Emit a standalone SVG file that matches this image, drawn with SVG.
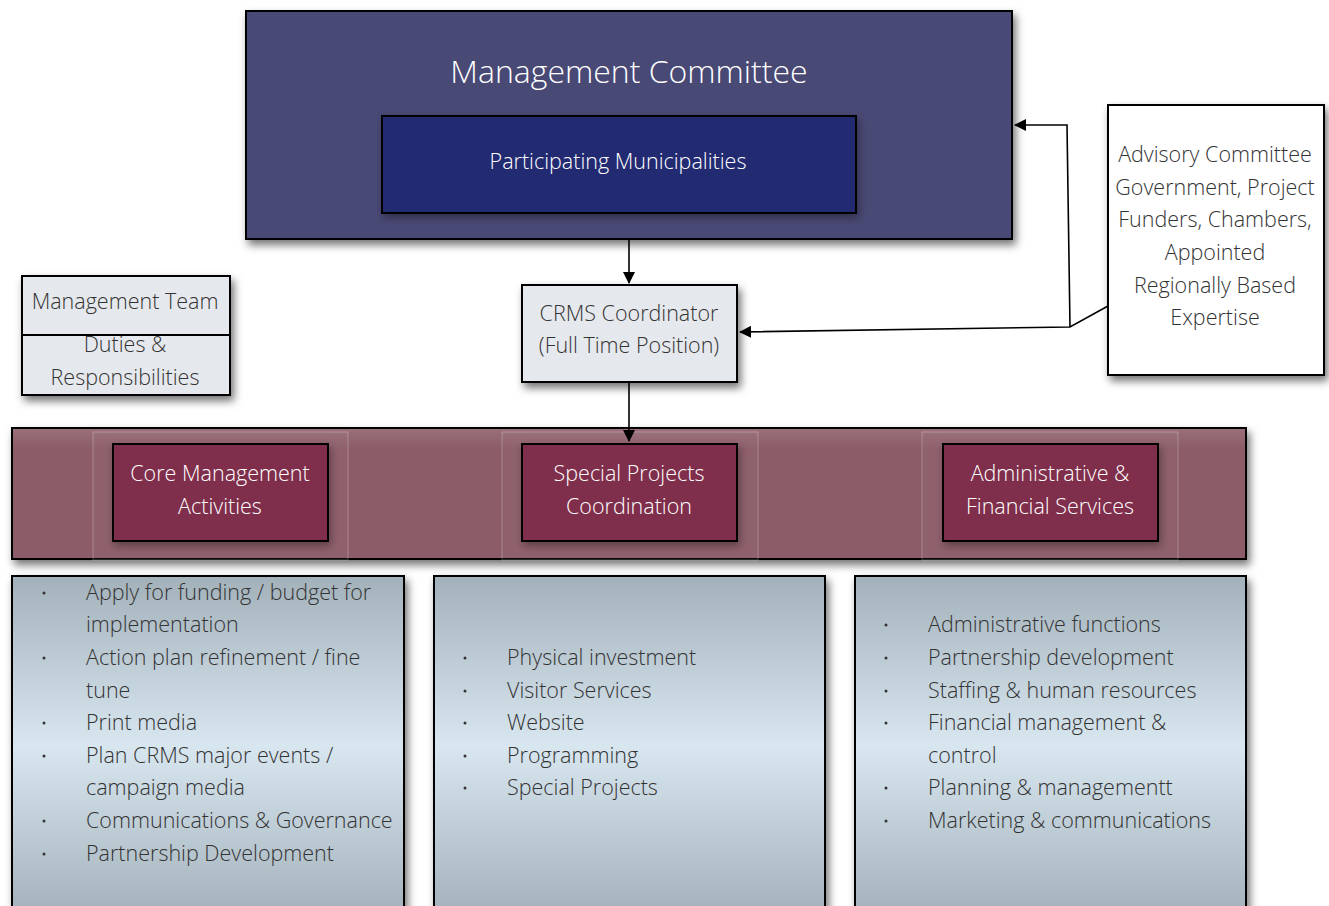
<svg xmlns="http://www.w3.org/2000/svg" width="1329" height="906" viewBox="0 0 1329 906">
  <defs>
    <filter id="shadow" x="-10%" y="-10%" width="125%" height="130%">
      <feDropShadow dx="3" dy="5" stdDeviation="4" flood-color="#000" flood-opacity="0.55"/>
    </filter>
    <filter id="softShadow" x="-10%" y="-10%" width="125%" height="130%">
      <feDropShadow dx="2" dy="4" stdDeviation="4" flood-color="#000" flood-opacity="0.35"/>
    </filter>
    <linearGradient id="listFill" x1="0" y1="0" x2="0" y2="1">
      <stop offset="0" stop-color="#a3b1ba"/>
      <stop offset="0.5" stop-color="#d8e6f0"/>
      <stop offset="1" stop-color="#a3b1ba"/>
    </linearGradient>
    <linearGradient id="bandSheen" x1="0" y1="0" x2="0" y2="1">
      <stop offset="0" stop-color="#fff" stop-opacity="0.12"/>
      <stop offset="0.15" stop-color="#fff" stop-opacity="0"/>
    </linearGradient>
    <marker id="arrow" viewBox="0 0 12 12" refX="11" refY="6" markerWidth="12" markerHeight="12" markerUnits="userSpaceOnUse" orient="auto">
      <path d="M0,0 L12,6 L0,12 z" fill="#000"/>
    </marker>
    <style>
      text { font-family: "Open Sans", "Noto Sans", "Liberation Sans", sans-serif; font-weight: 300; }
      .box { stroke: #000; stroke-width: 2; }
      .light { fill: #e5e8ec; }
      .dark { fill: #333; font-size: 21.5px; }
      .white { fill: #fff; font-size: 21.5px; }
      .unit { fill: #7f2e4c; }
      .mid { text-anchor: middle; }
      .bullet { fill: #333; font-size: 21.5px; }
      .dot { fill: #333; }
      .conn { fill: none; stroke: #000; stroke-width: 1.6; }
      .lane { fill: #fff; fill-opacity: 0.03; stroke: #fff; stroke-opacity: 0.25; stroke-width: 1; }
    </style>
  </defs>

  <rect width="1329" height="906" fill="#fff"/>

  <!-- governing committee with member municipalities -->
  <g id="management-committee">
    <rect class="box" x="246" y="11" width="766" height="228" fill="#4a4a75" filter="url(#shadow)"/>
    <text class="mid" x="629" y="83" fill="#fff" font-size="32">Management Committee</text>
  </g>
  <g id="participating-municipalities">
    <rect class="box" x="382" y="116" width="474" height="97" fill="#222c72" filter="url(#softShadow)"/>
    <text class="white mid" x="618" y="169">Participating Municipalities</text>
  </g>

  <g id="crms-coordinator">
    <rect class="box light" x="522" y="285" width="215" height="97" filter="url(#shadow)"/>
    <text class="dark mid" x="629" y="321">CRMS Coordinator</text>
    <text class="dark mid" x="629" y="353">(Full Time Position)</text>
  </g>

  <g id="management-team">
    <rect class="box light" x="22" y="276" width="208" height="119" filter="url(#shadow)"/>
    <line x1="22" y1="335" x2="230" y2="335" stroke="#000" stroke-width="2"/>
    <text class="dark mid" x="125" y="309">Management Team</text>
    <text class="dark mid" x="125" y="352">Duties &amp;</text>
    <text class="dark mid" x="125" y="385">Responsibilities</text>
  </g>

  <g id="advisory-committee">
    <rect class="box" x="1108" y="105" width="216" height="270" fill="#fff" filter="url(#shadow)"/>
    <text class="dark mid" x="1215" y="162">Advisory Committee</text>
    <text class="dark mid" x="1215" y="195">Government, Project</text>
    <text class="dark mid" x="1215" y="227">Funders, Chambers,</text>
    <text class="dark mid" x="1215" y="260">Appointed</text>
    <text class="dark mid" x="1215" y="293">Regionally Based</text>
    <text class="dark mid" x="1215" y="325">Expertise</text>
  </g>

  <!-- operational band with three service units -->
  <g id="operations-band">
    <rect class="box" x="12" y="428" width="1234" height="131" fill="#8c5b68" filter="url(#shadow)"/>
    <rect x="13" y="429" width="1232" height="129" fill="url(#bandSheen)"/>
    <rect class="lane" x="93" y="432" width="255" height="128"/>
    <rect class="lane" x="502" y="432" width="256" height="128"/>
    <rect class="lane" x="922" y="432" width="256" height="128"/>
  </g>
  <g id="core-management">
    <rect class="box unit" x="113" y="444" width="215" height="97" filter="url(#softShadow)"/>
    <text class="white mid" x="220" y="481">Core Management</text>
    <text class="white mid" x="220" y="514">Activities</text>
  </g>
  <g id="special-projects">
    <rect class="box unit" x="522" y="444" width="215" height="97" filter="url(#softShadow)"/>
    <text class="white mid" x="629" y="481">Special Projects</text>
    <text class="white mid" x="629" y="514">Coordination</text>
  </g>
  <g id="admin-financial">
    <rect class="box unit" x="943" y="444" width="215" height="97" filter="url(#softShadow)"/>
    <text class="white mid" x="1050" y="481">Administrative &amp;</text>
    <text class="white mid" x="1050" y="514">Financial Services</text>
  </g>

  <!-- task lists -->
  <g id="core-tasks">
    <rect class="box" x="12" y="576" width="392" height="340" fill="url(#listFill)" filter="url(#shadow)"/>
    <g class="dot">
      <circle cx="44" cy="593" r="1.5"/><circle cx="44" cy="658" r="1.5"/><circle cx="44" cy="723" r="1.5"/>
      <circle cx="44" cy="756" r="1.5"/><circle cx="44" cy="821" r="1.5"/><circle cx="44" cy="854" r="1.5"/>
    </g>
    <g class="bullet">
      <text x="86" y="600">Apply for funding / budget for</text>
      <text x="86" y="632">implementation</text>
      <text x="86" y="665">Action plan refinement / fine</text>
      <text x="86" y="698">tune</text>
      <text x="86" y="730">Print media</text>
      <text x="86" y="763">Plan CRMS major events /</text>
      <text x="86" y="795">campaign media</text>
      <text x="86" y="828">Communications &amp; Governance</text>
      <text x="86" y="861">Partnership Development</text>
    </g>
  </g>
  <g id="special-tasks">
    <rect class="box" x="434" y="576" width="391" height="340" fill="url(#listFill)" filter="url(#shadow)"/>
    <g class="dot">
      <circle cx="465" cy="658" r="1.5"/><circle cx="465" cy="691" r="1.5"/><circle cx="465" cy="723" r="1.5"/>
      <circle cx="465" cy="756" r="1.5"/><circle cx="465" cy="788" r="1.5"/>
    </g>
    <g class="bullet">
      <text x="507" y="665">Physical investment</text>
      <text x="507" y="698">Visitor Services</text>
      <text x="507" y="730">Website</text>
      <text x="507" y="763">Programming</text>
      <text x="507" y="795">Special Projects</text>
    </g>
  </g>
  <g id="admin-tasks">
    <rect class="box" x="855" y="576" width="391" height="340" fill="url(#listFill)" filter="url(#shadow)"/>
    <g class="dot">
      <circle cx="886" cy="625" r="1.5"/><circle cx="886" cy="658" r="1.5"/><circle cx="886" cy="691" r="1.5"/>
      <circle cx="886" cy="723" r="1.5"/><circle cx="886" cy="788" r="1.5"/><circle cx="886" cy="821" r="1.5"/>
    </g>
    <g class="bullet">
      <text x="928" y="632">Administrative functions</text>
      <text x="928" y="665">Partnership development</text>
      <text x="928" y="698">Staffing &amp; human resources</text>
      <text x="928" y="730">Financial management &amp;</text>
      <text x="928" y="763">control</text>
      <text x="928" y="795">Planning &amp; managementt</text>
      <text x="928" y="828">Marketing &amp; communications</text>
    </g>
  </g>

  <!-- reporting lines -->
  <g id="connectors">
    <line class="conn" x1="629" y1="240" x2="629" y2="283" marker-end="url(#arrow)"/>
    <line class="conn" x1="629" y1="383" x2="629" y2="441" marker-end="url(#arrow)"/>
    <polyline class="conn" points="1108,306 1070,327 740,332" marker-end="url(#arrow)"/>
    <polyline class="conn" points="1070,327 1067,125 1015,125" marker-end="url(#arrow)"/>
  </g>
</svg>
